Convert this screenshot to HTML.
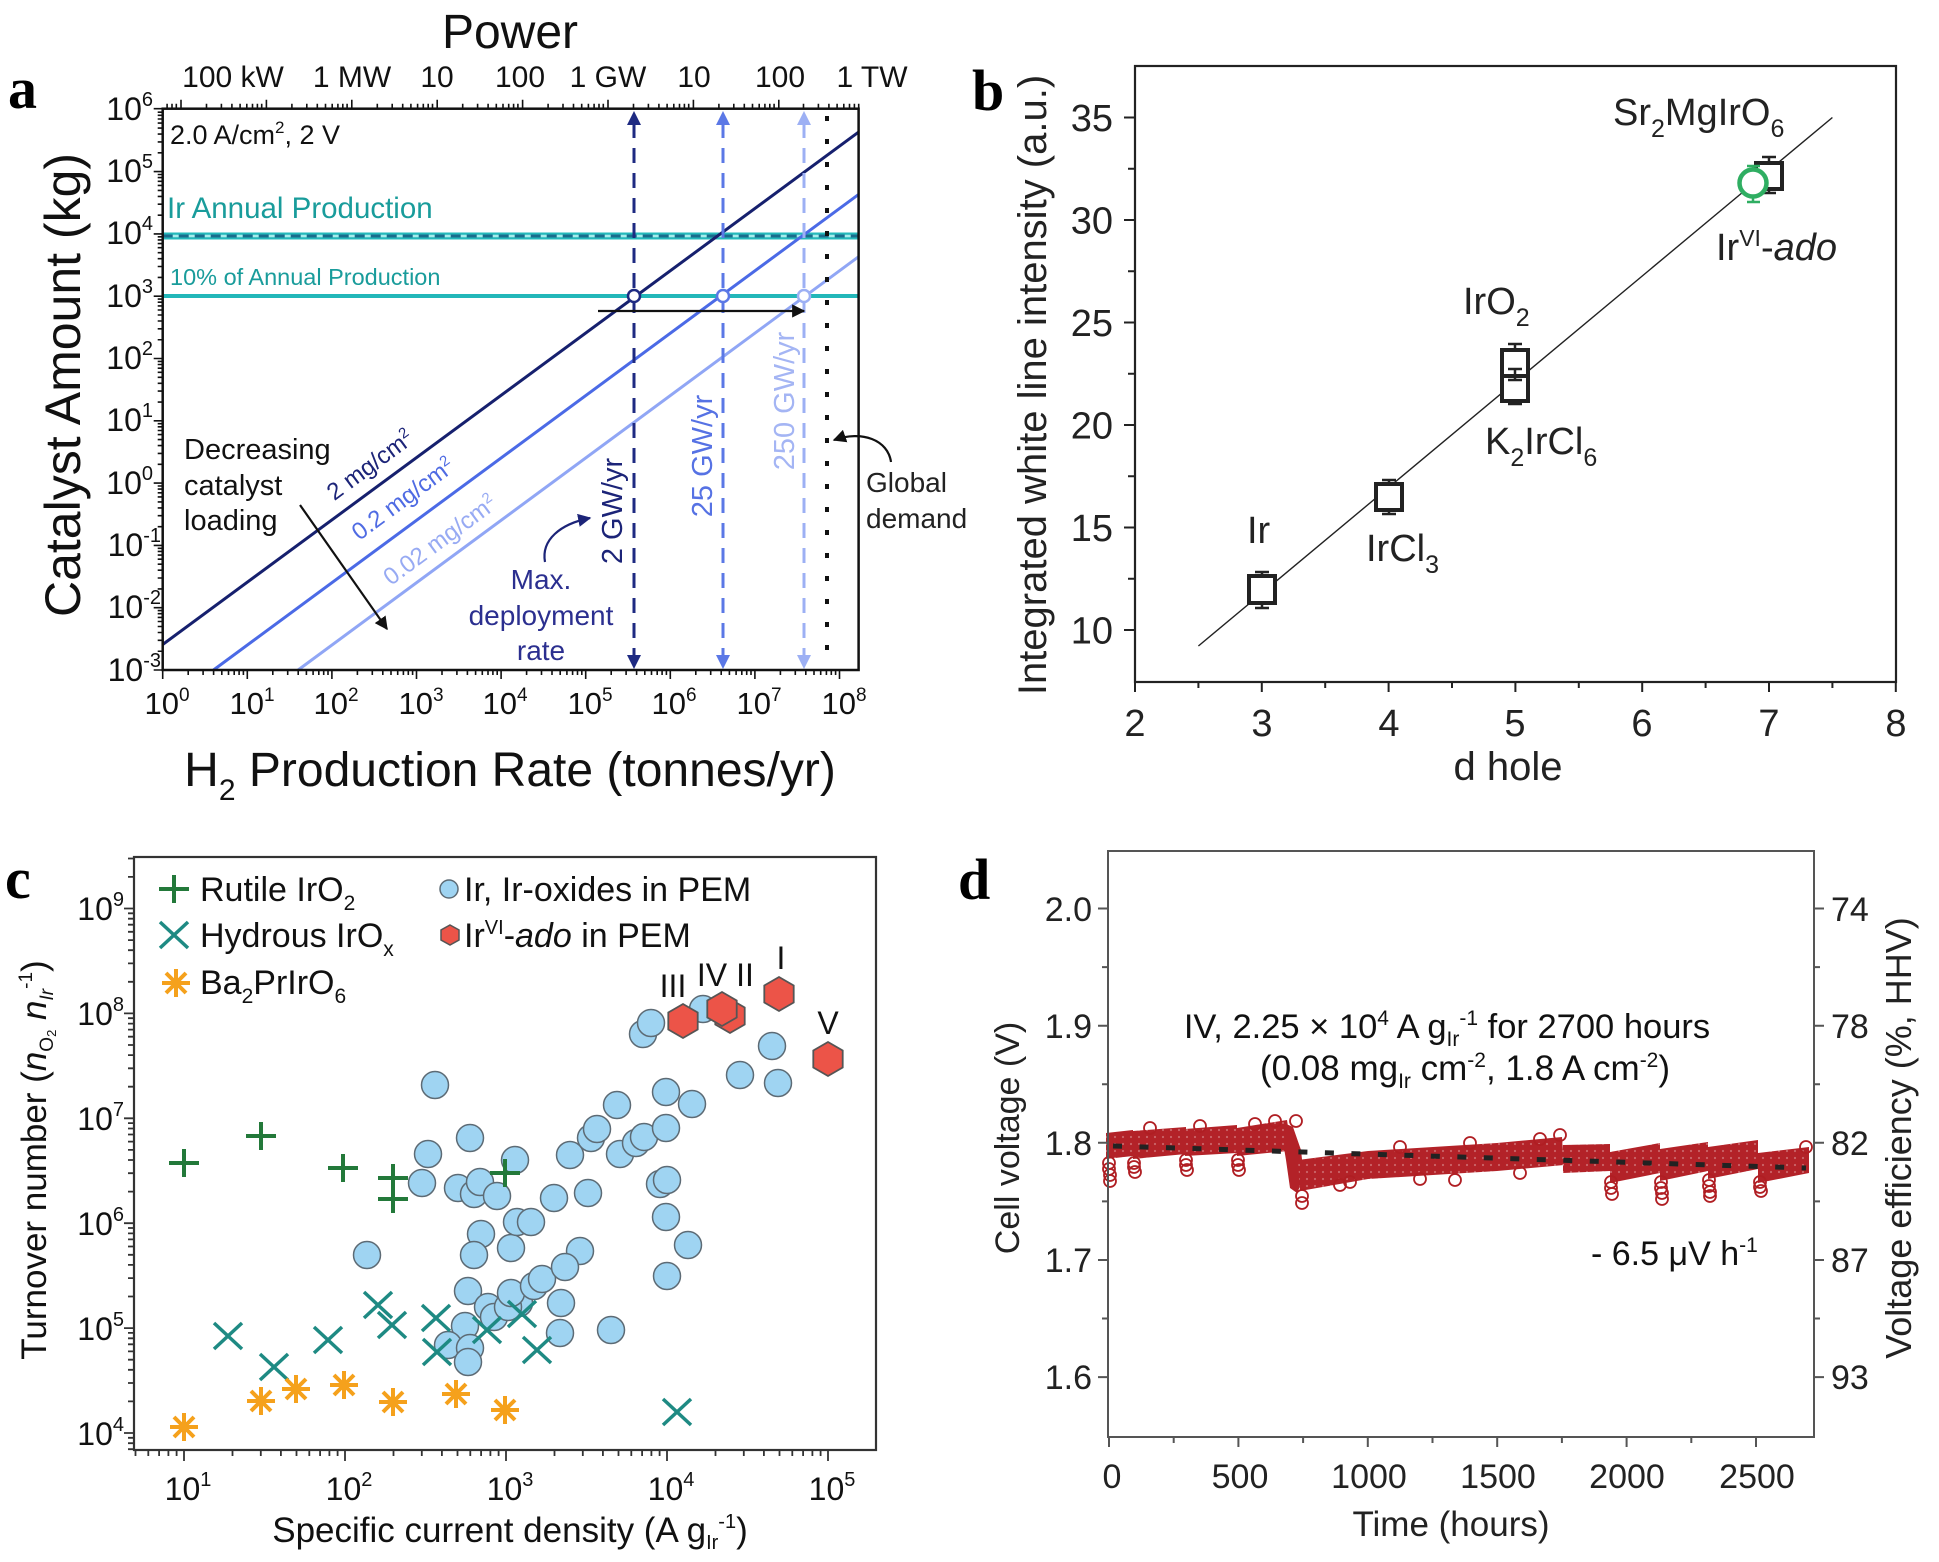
<!DOCTYPE html>
<html><head><meta charset="utf-8"><style>
html,body{margin:0;padding:0;background:#fff;}
svg{display:block;}
text{font-family:"Liberation Sans",Arial,sans-serif;}
.pl{font-family:"Liberation Serif","Times New Roman",serif;font-weight:bold;}
</style></head><body>
<svg width="1939" height="1562" viewBox="0 0 1939 1562" xmlns="http://www.w3.org/2000/svg">
<defs>
<path id="mAx" d="M25.5,0v5M40.4,0v5M50.9,0v5M59.1,0v5M65.8,0v5M71.5,0v5M76.4,0v5M80.7,0v5"/>
<path id="mAxu" d="M25.5,0v-5M40.4,0v-5M50.9,0v-5M59.1,0v-5M65.8,0v-5M71.5,0v-5M76.4,0v-5M80.7,0v-5"/>
<path id="mAy" d="M0,-18.75h-5M0,-29.7h-5M0,-37.5h-5M0,-43.5h-5M0,-48.5h-5M0,-52.6h-5M0,-56.3h-5M0,-59.4h-5"/>
<path id="mCx" d="M48.5,0v6M76.8,0v6M96.9,0v6M112.5,0v6M125.3,0v6M136.1,0v6M145.4,0v6M153.6,0v6"/>
<path id="mCy" d="M0,-31.6h-6M0,-50h-6M0,-63.2h-6M0,-73.3h-6M0,-81.6h-6M0,-88.7h-6M0,-94.7h-6M0,-100.1h-6"/>
<path id="pl" d="M-15,0h30M0,-14v28" stroke="#23793a" stroke-width="4" fill="none"/>
<path id="xm" d="M-14,-13L14,13M-14,13L14,-13" stroke="#1e8a83" stroke-width="3.5" fill="none"/>
<path id="as" d="M-14,0h28M0,-14v28M-10,-10L10,10M-10,10L10,-10" stroke="#f5a11c" stroke-width="4" fill="none"/>
<polygon id="hx" points="0,-17 14.7,-8.5 14.7,8.5 0,17 -14.7,8.5 -14.7,-8.5" fill="#ec5448" stroke="#555" stroke-width="1.8"/>
<marker id="ahk" viewBox="0 0 10 10" refX="9" refY="5" markerWidth="6" markerHeight="6" orient="auto"><path d="M0,0L10,5L0,10z" fill="#111"/></marker>
<marker id="ahn" viewBox="0 0 10 10" refX="9" refY="5" markerWidth="6" markerHeight="6" orient="auto"><path d="M0,0L10,5L0,10z" fill="#1c2478"/></marker>
<pattern id="spk" width="8" height="7" patternUnits="userSpaceOnUse"><circle cx="3" cy="3" r="1.1" fill="#fff" opacity="0.3"/></pattern>
</defs>

<!-- ================= PANEL A ================= -->
<text class="pl" x="8" y="108" font-size="58">a</text>
<text x="510" y="48" font-size="48" text-anchor="middle" fill="#111">Power</text>
<g font-size="30" fill="#111" text-anchor="middle">
<text x="233" y="87">100 kW</text><text x="352" y="87">1 MW</text><text x="437" y="87">10</text>
<text x="520" y="87">100</text><text x="608" y="87">1 GW</text><text x="694" y="87">10</text>
<text x="780" y="87">100</text><text x="872" y="87">1 TW</text>
</g>
<line x1="162.7" y1="236" x2="858.6" y2="236" stroke="#25b9bb" stroke-width="7"/>
<line x1="162.7" y1="236" x2="858.6" y2="236" stroke="#a6ecec" stroke-width="2.5"/>
<line x1="162.7" y1="236" x2="858.6" y2="236" stroke="#1a6c8c" stroke-width="3" stroke-dasharray="10 6"/>
<line x1="162.7" y1="296" x2="858.6" y2="296" stroke="#22b7b9" stroke-width="4"/>
<line x1="162.7" y1="644.5" x2="858.6" y2="132.1" stroke="#16206e" stroke-width="3"/>
<line x1="213.5" y1="670" x2="858.6" y2="194.4" stroke="#4b6ae6" stroke-width="3"/>
<line x1="298.1" y1="670" x2="858.6" y2="256.7" stroke="#90a6f5" stroke-width="3"/>
<line x1="634" y1="123" x2="634" y2="656" stroke="#1e2a82" stroke-width="3" stroke-dasharray="15 10"/>
<line x1="723" y1="123" x2="723" y2="656" stroke="#5b78e6" stroke-width="3" stroke-dasharray="15 10"/>
<line x1="804" y1="123" x2="804" y2="656" stroke="#9db0f4" stroke-width="3" stroke-dasharray="15 10"/>
<polygon points="634,111 627,125 641,125" fill="#1e2a82"/><polygon points="634,669 627,655 641,655" fill="#1e2a82"/>
<polygon points="723,111 716,125 730,125" fill="#5b78e6"/><polygon points="723,669 716,655 730,655" fill="#5b78e6"/>
<polygon points="804,111 797,125 811,125" fill="#9db0f4"/><polygon points="804,669 797,655 811,655" fill="#9db0f4"/>
<line x1="827" y1="116" x2="827" y2="668" stroke="#111" stroke-width="4" stroke-dasharray="5 18"/>
<circle cx="634" cy="296" r="6" fill="#fff" stroke="#1e2a82" stroke-width="2.5"/>
<circle cx="723" cy="296" r="6" fill="#fff" stroke="#5b78e6" stroke-width="2.5"/>
<circle cx="804" cy="296" r="6" fill="#fff" stroke="#9db0f4" stroke-width="2.5"/>
<line x1="598" y1="311" x2="804" y2="311" stroke="#111" stroke-width="2.2" marker-end="url(#ahk)"/>
<line x1="300" y1="505" x2="387" y2="629" stroke="#111" stroke-width="2.2" marker-end="url(#ahk)"/>
<path d="M545,562 C541,540 560,524 590,518" stroke="#1c2478" stroke-width="2.2" fill="none" marker-end="url(#ahn)"/>
<path d="M891,462 C888,440 862,430 834,440" stroke="#111" stroke-width="2.2" fill="none" marker-end="url(#ahk)"/>
<rect x="162.7" y="108.7" width="695.9" height="561.3" fill="none" stroke="#111" stroke-width="2.5"/>
<g stroke="#111" stroke-width="1.6" fill="none">
<path d="M162.7,670v9M247.3,670v9M331.9,670v9M416.5,670v9M501.1,670v9M585.7,670v9M670.3,670v9M754.9,670v9M839.5,670v9"/>
<use href="#mAx" x="162.7" y="670"/><use href="#mAx" x="247.3" y="670"/><use href="#mAx" x="331.9" y="670"/><use href="#mAx" x="416.5" y="670"/>
<use href="#mAx" x="501.1" y="670"/><use href="#mAx" x="585.7" y="670"/><use href="#mAx" x="670.3" y="670"/><use href="#mAx" x="754.9" y="670"/>
<path d="M181,108.7v-9M266.4,108.7v-9M351.8,108.7v-9M437.2,108.7v-9M522.6,108.7v-9M608,108.7v-9M693.4,108.7v-9M778.8,108.7v-9"/>
<path d="M167.1,108.7v-5M172,108.7v-5M176.3,108.7v-5"/>
<use href="#mAxu" x="181" y="108.7"/><use href="#mAxu" x="266.4" y="108.7"/><use href="#mAxu" x="351.8" y="108.7"/><use href="#mAxu" x="437.2" y="108.7"/>
<use href="#mAxu" x="522.6" y="108.7"/><use href="#mAxu" x="608" y="108.7"/><use href="#mAxu" x="693.4" y="108.7"/><use href="#mAxu" x="778" y="108.7"/>
<path d="M162.7,670h-9M162.7,607.7h-9M162.7,545.4h-9M162.7,483.1h-9M162.7,420.8h-9M162.7,358.5h-9M162.7,296.2h-9M162.7,233.9h-9M162.7,171.6h-9M162.7,108.7h-9"/>
<use href="#mAy" x="162.7" y="670"/><use href="#mAy" x="162.7" y="607.7"/><use href="#mAy" x="162.7" y="545.4"/><use href="#mAy" x="162.7" y="483.1"/>
<use href="#mAy" x="162.7" y="420.8"/><use href="#mAy" x="162.7" y="358.5"/><use href="#mAy" x="162.7" y="296.2"/><use href="#mAy" x="162.7" y="233.9"/><use href="#mAy" x="162.7" y="171.6"/>
</g>
<g font-size="32" fill="#111" text-anchor="end">
<text x="153" y="120">10<tspan dy="-14" font-size="20">6</tspan></text>
<text x="153" y="182">10<tspan dy="-14" font-size="20">5</tspan></text>
<text x="153" y="244">10<tspan dy="-14" font-size="20">4</tspan></text>
<text x="153" y="307">10<tspan dy="-14" font-size="20">3</tspan></text>
<text x="153" y="369">10<tspan dy="-14" font-size="20">2</tspan></text>
<text x="153" y="431">10<tspan dy="-14" font-size="20">1</tspan></text>
<text x="153" y="494">10<tspan dy="-14" font-size="20">0</tspan></text>
<text x="161" y="556">10<tspan dy="-14" font-size="20">-1</tspan></text>
<text x="161" y="618">10<tspan dy="-14" font-size="20">-2</tspan></text>
<text x="161" y="681">10<tspan dy="-14" font-size="20">-3</tspan></text>
</g>
<g font-size="31" fill="#111" text-anchor="middle">
<text x="167" y="714">10<tspan dy="-13" font-size="19">0</tspan></text>
<text x="252" y="714">10<tspan dy="-13" font-size="19">1</tspan></text>
<text x="336" y="714">10<tspan dy="-13" font-size="19">2</tspan></text>
<text x="421" y="714">10<tspan dy="-13" font-size="19">3</tspan></text>
<text x="505" y="714">10<tspan dy="-13" font-size="19">4</tspan></text>
<text x="590" y="714">10<tspan dy="-13" font-size="19">5</tspan></text>
<text x="674" y="714">10<tspan dy="-13" font-size="19">6</tspan></text>
<text x="759" y="714">10<tspan dy="-13" font-size="19">7</tspan></text>
<text x="844" y="714">10<tspan dy="-13" font-size="19">8</tspan></text>
</g>
<text transform="translate(80,385) rotate(-90)" text-anchor="middle" font-size="50" fill="#111">Catalyst Amount (kg)</text>
<text x="510" y="786" text-anchor="middle" font-size="48" fill="#111">H<tspan dy="14" font-size="30">2</tspan><tspan dy="-14"> Production Rate (tonnes/yr)</tspan></text>
<text x="170" y="144" font-size="27" fill="#111">2.0 A/cm<tspan dy="-11" font-size="17">2</tspan><tspan dy="11">, 2 V</tspan></text>
<text x="167" y="218" font-size="29.5" fill="#199c9b">Ir Annual Production</text>
<text x="170" y="285" font-size="23.5" fill="#199c9b">10% of Annual Production</text>
<g font-size="29" fill="#111"><text x="184" y="459">Decreasing</text><text x="184" y="495">catalyst</text><text x="184" y="530">loading</text></g>
<g font-size="28" fill="#2b2f8f" text-anchor="middle"><text x="541" y="589">Max.</text><text x="541" y="625">deployment</text><text x="541" y="660">rate</text></g>
<g font-size="28" fill="#222"><text x="866" y="492">Global</text><text x="866" y="528">demand</text></g>
<text transform="translate(370,465) rotate(-36.4)" y="8" text-anchor="middle" font-size="24" fill="#1c2478">2 mg/cm<tspan dy="-9" font-size="15">2</tspan></text>
<text transform="translate(403,499) rotate(-36.4)" y="8" text-anchor="middle" font-size="24" fill="#4f6be3">0.2 mg/cm<tspan dy="-9" font-size="15">2</tspan></text>
<text transform="translate(440,540) rotate(-36.4)" y="8" text-anchor="middle" font-size="24" fill="#97aaf3">0.02 mg/cm<tspan dy="-9" font-size="15">2</tspan></text>
<text transform="translate(622,511) rotate(-90)" text-anchor="middle" font-size="29" fill="#1c2478">2 GW/yr</text>
<text transform="translate(712,456) rotate(-90)" text-anchor="middle" font-size="29" fill="#5672e4">25 GW/yr</text>
<text transform="translate(794,401) rotate(-90)" text-anchor="middle" font-size="29" fill="#a4b5f4">250 GW/yr</text>

<!-- ================= PANEL B ================= -->
<text class="pl" x="972" y="110" font-size="58">b</text>
<line x1="1198.4" y1="646" x2="1832.4" y2="117.5" stroke="#222" stroke-width="1.4"/>
<rect x="1135" y="66" width="761" height="616" fill="none" stroke="#222" stroke-width="2.2"/>
<g stroke="#222" stroke-width="2" fill="none">
<path d="M1135,682v10M1261.8,682v10M1388.6,682v10M1515.4,682v10M1642.2,682v10M1769,682v10M1895.8,682v10"/>
<path d="M1198.4,682v6M1325.2,682v6M1452,682v6M1578.8,682v6M1705.6,682v6M1832.4,682v6"/>
<path d="M1135,630h-11M1135,527.5h-11M1135,425h-11M1135,322.5h-11M1135,220h-11M1135,117.5h-11"/>
<path d="M1135,578.75h-7M1135,476.25h-7M1135,373.75h-7M1135,271.25h-7M1135,168.75h-7"/>
</g>
<g font-size="38" fill="#222" text-anchor="end">
<text x="1113" y="643.5">10</text><text x="1113" y="541">15</text><text x="1113" y="438.5">20</text>
<text x="1113" y="336">25</text><text x="1113" y="233.5">30</text><text x="1113" y="131">35</text>
</g>
<g font-size="38" fill="#222" text-anchor="middle">
<text x="1135" y="736">2</text><text x="1262" y="736">3</text><text x="1389" y="736">4</text><text x="1515" y="736">5</text>
<text x="1642" y="736">6</text><text x="1769" y="736">7</text><text x="1896" y="736">8</text>
</g>
<text transform="translate(1046,385) rotate(-90)" text-anchor="middle" font-size="40" fill="#222">Integrated white line intensity (a.u.)</text>
<text x="1508" y="780" text-anchor="middle" font-size="40" fill="#222">d hole</text>
<g fill="#fff" stroke="#222" stroke-width="4">
<rect x="1249" y="576" width="26" height="27"/>
<rect x="1376" y="484" width="26" height="26"/>
<rect x="1502" y="375" width="26" height="26"/>
<rect x="1502" y="350" width="26" height="26"/>
<rect x="1756" y="163" width="26" height="26"/>
</g>
<g stroke="#222" stroke-width="2.5" fill="none">
<path d="M1262,572v5M1255,572h14M1262,602v6M1255,608h14"/>
<path d="M1389,480v5M1382,480h14M1389,509v5M1382,514h14"/>
<path d="M1515,344v7M1508,344h14M1515,369v11M1508,369h14M1508,380h14M1515,400v4M1508,404h14"/>
<path d="M1769,157v7M1762,157h14M1769,188v5M1762,193h14"/>
</g>
<circle cx="1753" cy="183" r="13.5" fill="#fff" stroke="#2fae62" stroke-width="4.5"/>
<path d="M1747,166h13M1753,166v4M1747,202h13M1753,202v-4" stroke="#2fae62" stroke-width="2.5" fill="none"/>
<g font-size="38" fill="#222">
<text x="1613" y="125">Sr<tspan dy="12" font-size="25">2</tspan><tspan dy="-12">MgIrO</tspan><tspan dy="12" font-size="25">6</tspan></text>
<text x="1716" y="260">Ir<tspan dy="-14" font-size="23">VI</tspan><tspan dy="14">-</tspan><tspan font-style="italic">ado</tspan></text>
<text x="1463" y="314">IrO<tspan dy="12" font-size="25">2</tspan></text>
<text x="1485" y="454">K<tspan dy="12" font-size="25">2</tspan><tspan dy="-12">IrCl</tspan><tspan dy="12" font-size="25">6</tspan></text>
<text x="1366" y="561">IrCl<tspan dy="12" font-size="25">3</tspan></text>
<text x="1247" y="543">Ir</text>
</g>

<!-- ================= PANEL C ================= -->
<text class="pl" x="5" y="898" font-size="58">c</text>
<rect x="134" y="857" width="742" height="593" fill="none" stroke="#333" stroke-width="2.2"/>
<g stroke="#333" stroke-width="1.8" fill="none">
<path d="M184,1450v11M345,1450v11M506,1450v11M667,1450v11M828,1450v11"/>
<path d="M135.5,1450v6M148.3,1450v6M159.1,1450v6M168.4,1450v6M176.6,1450v6"/>
<use href="#mCx" x="184" y="1450"/><use href="#mCx" x="345" y="1450"/><use href="#mCx" x="506" y="1450"/><use href="#mCx" x="667" y="1450"/>
<path d="M134,1433h-10M134,1328.1h-10M134,1223.2h-10M134,1118.3h-10M134,1013.4h-10M134,908.5h-10"/>
<use href="#mCy" x="134" y="1433"/><use href="#mCy" x="134" y="1328.1"/><use href="#mCy" x="134" y="1223.2"/><use href="#mCy" x="134" y="1118.3"/><use href="#mCy" x="134" y="1013.4"/>
<path d="M134,876.9h-6M134,858.5h-6M134,1449.2h-6M134,1443.2h-6M134,1437.8h-6"/>
</g>
<g font-size="32" fill="#111" text-anchor="end">
<text x="124" y="1445">10<tspan dy="-14" font-size="20">4</tspan></text>
<text x="124" y="1340">10<tspan dy="-14" font-size="20">5</tspan></text>
<text x="124" y="1235">10<tspan dy="-14" font-size="20">6</tspan></text>
<text x="124" y="1130">10<tspan dy="-14" font-size="20">7</tspan></text>
<text x="124" y="1025">10<tspan dy="-14" font-size="20">8</tspan></text>
<text x="124" y="920">10<tspan dy="-14" font-size="20">9</tspan></text>
</g>
<g font-size="32" fill="#111" text-anchor="middle">
<text x="188" y="1500">10<tspan dy="-14" font-size="20">1</tspan></text>
<text x="349" y="1500">10<tspan dy="-14" font-size="20">2</tspan></text>
<text x="510" y="1500">10<tspan dy="-14" font-size="20">3</tspan></text>
<text x="671" y="1500">10<tspan dy="-14" font-size="20">4</tspan></text>
<text x="832" y="1500">10<tspan dy="-14" font-size="20">5</tspan></text>
</g>
<text transform="translate(46,1160) rotate(-90)" text-anchor="middle" font-size="35" fill="#111">Turnover number (<tspan font-style="italic">n</tspan><tspan font-size="19" dy="7">O</tspan><tspan font-size="13" dy="3">2</tspan><tspan dy="-10"> </tspan><tspan font-style="italic">n</tspan><tspan font-size="19" dy="7" font-style="italic">Ir</tspan><tspan font-size="19" dy="-21">-1</tspan><tspan dy="14">)</tspan></text>
<text x="510" y="1542" text-anchor="middle" font-size="35" fill="#111">Specific current density (A g<tspan font-size="20" dy="7">Ir</tspan><tspan font-size="20" dy="-21">-1</tspan><tspan dy="14">)</tspan></text>
<g fill="#9fd4f2" stroke="#5d6b75" stroke-width="1.5">
<circle cx="367" cy="1255" r="13.5"/><circle cx="435" cy="1085" r="13.5"/><circle cx="428" cy="1154" r="13.5"/><circle cx="422" cy="1183" r="13.5"/>
<circle cx="470" cy="1138" r="13.5"/><circle cx="458" cy="1188" r="13.5"/><circle cx="474" cy="1194" r="13.5"/><circle cx="480" cy="1182" r="13.5"/>
<circle cx="497" cy="1196" r="13.5"/><circle cx="481" cy="1234" r="13.5"/><circle cx="474" cy="1255" r="13.5"/><circle cx="511" cy="1248" r="13.5"/>
<circle cx="517" cy="1222" r="13.5"/><circle cx="531" cy="1222" r="13.5"/><circle cx="515" cy="1160" r="13.5"/><circle cx="468" cy="1291" r="13.5"/>
<circle cx="488" cy="1307" r="13.5"/><circle cx="519" cy="1303" r="13.5"/>
<circle cx="465" cy="1326" r="13.5"/><circle cx="448" cy="1345" r="13.5"/><circle cx="470" cy="1348" r="13.5"/><circle cx="468" cy="1362" r="13.5"/>
<circle cx="494" cy="1317" r="13.5"/><circle cx="508" cy="1307" r="13.5"/><circle cx="511" cy="1293" r="13.5"/><circle cx="534" cy="1286" r="13.5"/>
<circle cx="542" cy="1279" r="13.5"/><circle cx="561" cy="1303" r="13.5"/><circle cx="560" cy="1333" r="13.5"/><circle cx="554" cy="1198" r="13.5"/>
<circle cx="580" cy="1251" r="13.5"/><circle cx="565" cy="1267" r="13.5"/><circle cx="570" cy="1155" r="13.5"/><circle cx="588" cy="1193" r="13.5"/>
<circle cx="591" cy="1138" r="13.5"/><circle cx="597" cy="1129" r="13.5"/><circle cx="620" cy="1154" r="13.5"/><circle cx="617" cy="1105" r="13.5"/>
<circle cx="636" cy="1143" r="13.5"/><circle cx="644" cy="1137" r="13.5"/><circle cx="643" cy="1034" r="13.5"/><circle cx="651" cy="1023" r="13.5"/>
<circle cx="666" cy="1092" r="13.5"/><circle cx="666" cy="1128" r="13.5"/><circle cx="660" cy="1184" r="13.5"/><circle cx="667" cy="1180" r="13.5"/>
<circle cx="666" cy="1217" r="13.5"/><circle cx="667" cy="1276" r="13.5"/><circle cx="688" cy="1245" r="13.5"/><circle cx="692" cy="1104" r="13.5"/>
<circle cx="611" cy="1330" r="13.5"/><circle cx="703" cy="1009" r="13.5"/><circle cx="740" cy="1075" r="13.5"/><circle cx="772" cy="1046" r="13.5"/>
<circle cx="778" cy="1083" r="13.5"/>
</g>
<g>
<use href="#pl" x="184" y="1163"/><use href="#pl" x="261" y="1136"/><use href="#pl" x="343" y="1168"/>
<use href="#pl" x="393" y="1178"/><use href="#pl" x="393" y="1199"/><use href="#pl" x="505" y="1173"/>
<use href="#xm" x="228" y="1336"/><use href="#xm" x="274" y="1367"/><use href="#xm" x="328" y="1340"/><use href="#xm" x="378" y="1305"/>
<use href="#xm" x="392" y="1325"/><use href="#xm" x="436" y="1318"/><use href="#xm" x="437" y="1352"/><use href="#xm" x="487" y="1330"/>
<use href="#xm" x="522" y="1314"/><use href="#xm" x="537" y="1350"/><use href="#xm" x="677" y="1412"/>
<use href="#as" x="184" y="1427"/><use href="#as" x="261" y="1401"/><use href="#as" x="296" y="1389"/><use href="#as" x="344" y="1385"/>
<use href="#as" x="393" y="1402"/><use href="#as" x="456" y="1394"/><use href="#as" x="505" y="1410"/>
<use href="#hx" x="683" y="1021"/><use href="#hx" x="730" y="1016"/><use href="#hx" x="722" y="1009"/>
<use href="#hx" x="779" y="994"/><use href="#hx" x="828" y="1059"/>
</g>
<g font-size="32" fill="#111" text-anchor="middle">
<text x="673" y="997">III</text><text x="712" y="986">IV</text><text x="745" y="986">II</text>
<text x="781" y="969">I</text><text x="828" y="1034">V</text>
</g>
<use href="#pl" x="174" y="889"/><use href="#xm" x="174" y="935"/><use href="#as" x="176" y="983"/>
<circle cx="449" cy="889" r="9" fill="#9fd4f2" stroke="#5d6b75" stroke-width="1.5"/>
<polygon points="450,925 459,930 459,940 450,945 441,940 441,930" fill="#ec5448" stroke="#555" stroke-width="1.5"/>
<g font-size="34" fill="#111">
<text x="200" y="901">Rutile IrO<tspan dy="9" font-size="21">2</tspan></text>
<text x="200" y="947">Hydrous IrO<tspan dy="9" font-size="21">x</tspan></text>
<text x="200" y="994">Ba<tspan dy="9" font-size="21">2</tspan><tspan dy="-9">PrIrO</tspan><tspan dy="9" font-size="21">6</tspan></text>
<text x="464" y="901">Ir, Ir-oxides in PEM</text>
<text x="464" y="947">Ir<tspan dy="-13" font-size="20">VI</tspan><tspan dy="13">-</tspan><tspan font-style="italic">ado</tspan> in PEM</text>
</g>

<!-- ================= PANEL D ================= -->
<text class="pl" x="958" y="899" font-size="58">d</text>
<g fill="#b32228">
<polygon points="1106,1133 1133,1130 1133,1156 1106,1159"/>
<polygon points="1133,1131 1186,1127 1186,1154 1133,1159"/>
<polygon points="1185,1129 1237,1125 1237,1153 1185,1156"/>
<polygon points="1237,1128 1287,1120 1290,1140 1288,1151 1237,1156"/>
<polygon points="1284,1123 1293,1127 1301,1150 1304,1178 1297,1193 1290,1188 1286,1160 1284,1148"/>
<polygon points="1298,1160 1368,1151 1497,1143 1562,1137 1564,1165 1497,1171 1368,1179 1300,1191"/>
<polygon points="1563,1145 1610,1144 1610,1171 1563,1173"/>
<polygon points="1610,1152 1660,1143 1660,1173 1610,1183"/>
<polygon points="1660,1149 1708,1142 1708,1171 1660,1181"/>
<polygon points="1708,1147 1758,1140 1758,1169 1708,1179"/>
<polygon points="1758,1153 1809,1147 1809,1173 1758,1183"/>
</g>
<g fill="url(#spk)">
<polygon points="1106,1133 1287,1120 1288,1151 1106,1159"/>
<polygon points="1298,1160 1562,1137 1564,1165 1300,1191"/>
<polygon points="1563,1145 1809,1140 1809,1173 1563,1178"/>
</g>
<g fill="none" stroke="#b01e23" stroke-width="1.8">
<circle cx="1109" cy="1163" r="6"/><circle cx="1109" cy="1169" r="6"/><circle cx="1110" cy="1175" r="6"/><circle cx="1110" cy="1181" r="6"/>
<circle cx="1134" cy="1163" r="6"/><circle cx="1134" cy="1167" r="6"/><circle cx="1135" cy="1172" r="6"/>
<circle cx="1186" cy="1160" r="6"/><circle cx="1186" cy="1165" r="6"/><circle cx="1187" cy="1170" r="6"/>
<circle cx="1238" cy="1160" r="6"/><circle cx="1238" cy="1165" r="6"/><circle cx="1239" cy="1170" r="6"/>
<circle cx="1302" cy="1196" r="6"/><circle cx="1302" cy="1203" r="6"/><circle cx="1296" cy="1121" r="6"/>
<circle cx="1611" cy="1182" r="6"/><circle cx="1611" cy="1188" r="6"/><circle cx="1612" cy="1194" r="6"/>
<circle cx="1661" cy="1182" r="6"/><circle cx="1661" cy="1188" r="6"/><circle cx="1662" cy="1193" r="6"/><circle cx="1662" cy="1199" r="6"/>
<circle cx="1709" cy="1180" r="6"/><circle cx="1709" cy="1186" r="6"/><circle cx="1710" cy="1192" r="6"/><circle cx="1710" cy="1196" r="6"/>
<circle cx="1760" cy="1182" r="6"/><circle cx="1760" cy="1187" r="6"/><circle cx="1761" cy="1191" r="6"/>
<circle cx="1340" cy="1185" r="6"/><circle cx="1350" cy="1182" r="6"/><circle cx="1420" cy="1179" r="6"/><circle cx="1455" cy="1180" r="6"/>
<circle cx="1520" cy="1173" r="6"/><circle cx="1560" cy="1135" r="6"/><circle cx="1806" cy="1147" r="6"/>
<circle cx="1150" cy="1128" r="6"/><circle cx="1200" cy="1126" r="6"/><circle cx="1255" cy="1124" r="6"/><circle cx="1275" cy="1121" r="6"/>
<circle cx="1400" cy="1147" r="6"/><circle cx="1470" cy="1143" r="6"/><circle cx="1540" cy="1139" r="6"/>
</g>
<line x1="1113" y1="1146" x2="1806" y2="1168" stroke="#222" stroke-width="5" stroke-dasharray="9 17.5"/>
<rect x="1108" y="851" width="706" height="586" fill="none" stroke="#555" stroke-width="2"/>
<g stroke="#555" stroke-width="2" fill="none">
<path d="M1108,1377.1h-10M1108,1260h-10M1108,1142.8h-10M1108,1025.7h-10M1108,908.5h-10"/>
<path d="M1108,1318.5h-6M1108,1201.4h-6M1108,1084.3h-6M1108,967.1h-6"/>
<path d="M1814,1377.1h10M1814,1260h10M1814,1142.8h10M1814,1025.7h10M1814,908.5h10"/>
<path d="M1814,1318.5h6M1814,1201.4h6M1814,1084.3h6M1814,967.1h6"/>
<path d="M1109,1437v10M1238.4,1437v10M1367.8,1437v10M1497.2,1437v10M1626.6,1437v10M1756,1437v10"/>
<path d="M1173.7,1437v6M1303.1,1437v6M1432.5,1437v6M1561.9,1437v6M1691.3,1437v6"/>
</g>
<g font-size="34" fill="#222" text-anchor="end">
<text x="1092" y="1389">1.6</text><text x="1092" y="1272">1.7</text><text x="1092" y="1155">1.8</text>
<text x="1092" y="1038">1.9</text><text x="1092" y="921">2.0</text>
</g>
<g font-size="34" fill="#222">
<text x="1831" y="1389">93</text><text x="1831" y="1272">87</text><text x="1831" y="1155">82</text>
<text x="1831" y="1038">78</text><text x="1831" y="921">74</text>
</g>
<g font-size="34" fill="#222" text-anchor="middle">
<text x="1112" y="1488">0</text><text x="1240" y="1488">500</text><text x="1369" y="1488">1000</text>
<text x="1498" y="1488">1500</text><text x="1627" y="1488">2000</text><text x="1757" y="1488">2500</text>
</g>
<text transform="translate(1019,1138) rotate(-90)" text-anchor="middle" font-size="34" fill="#222">Cell voltage (V)</text>
<text transform="translate(1911,1138) rotate(-90)" text-anchor="middle" font-size="36" fill="#222">Voltage efficiency (%, HHV)</text>
<text x="1451" y="1536" text-anchor="middle" font-size="35" fill="#222">Time (hours)</text>
<text x="1447" y="1038" text-anchor="middle" font-size="34.5" fill="#111">IV, 2.25 × 10<tspan dy="-13" font-size="21">4</tspan><tspan dy="13"> A g</tspan><tspan dy="8" font-size="21">Ir</tspan><tspan dy="-21" font-size="21">-1</tspan><tspan dy="13"> for 2700 hours</tspan></text>
<text x="1465" y="1080" text-anchor="middle" font-size="35" fill="#111">(0.08 mg<tspan dy="8" font-size="21">Ir</tspan><tspan dy="-8"> cm</tspan><tspan dy="-13" font-size="21">-2</tspan><tspan dy="13">, 1.8 A cm</tspan><tspan dy="-13" font-size="21">-2</tspan><tspan dy="13">)</tspan></text>
<text x="1591" y="1265" font-size="34" fill="#111">- 6.5 μV h<tspan dy="-13" font-size="21">-1</tspan></text>
</svg>
</body></html>
